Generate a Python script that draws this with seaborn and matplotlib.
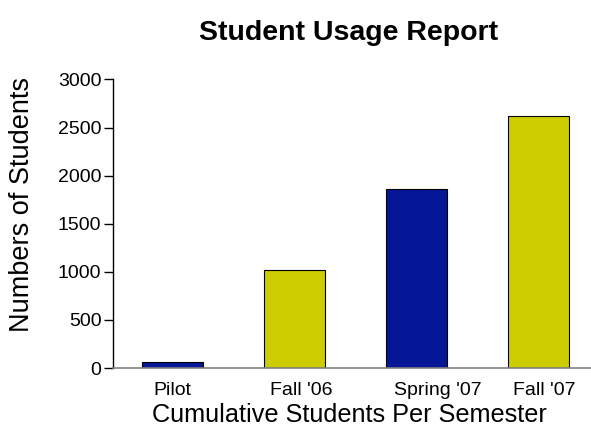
import matplotlib
matplotlib.use("Agg")
import matplotlib.pyplot as plt
import seaborn as sns
import pandas as pd

semesters = ["Pilot", "Fall '06", "Spring '07", "Fall '07"]
students = [60, 1020, 1860, 2620]
bar_colors = ["#051796", "#CCCC00", "#051796", "#CCCC00"]
y_ticks = [0, 500, 1000, 1500, 2000, 2500, 3000]
# category label positions along the x axis (slightly right of some bars)
label_positions = [0.0, 1.05, 2.17, 3.05]

sns.set_style("white")
plt.rcParams["font.family"] = ["Liberation Sans", "DejaVu Sans"]
plt.rcParams["text.color"] = "black"
plt.rcParams["axes.labelcolor"] = "black"
plt.rcParams["xtick.color"] = "black"
plt.rcParams["ytick.color"] = "black"

df = pd.DataFrame({"semester": semesters, "students": students})

fig = plt.figure(figsize=(5.91, 4.34), dpi=100)
ax = fig.add_axes([0.1912, 0.152, 0.8088, 0.665])

sns.barplot(data=df, x="semester", y="students", hue="semester",
            palette=bar_colors, legend=False, width=0.5, saturation=1,
            edgecolor="black", linewidth=0.8, ax=ax)

ax.set_xlim(-0.49, 3.43)
ax.set_ylim(0, 3000)
ax.set_yticks(y_ticks)
ax.set_xticks(label_positions)
ax.set_xticklabels(semesters)
ax.tick_params(axis="y", direction="out", length=6.3, width=1, color="black",
               labelsize=14, pad=2, left=True)
ax.tick_params(axis="x", length=0, labelsize=14, pad=10)

for side in ("top", "right"):
    ax.spines[side].set_visible(False)
ax.spines["left"].set_color("black")
ax.spines["left"].set_linewidth(1)
ax.spines["bottom"].set_color("#808080")
ax.spines["bottom"].set_linewidth(1.2)

ax.set_ylabel("Numbers of Students", fontsize=19.5)
ax.yaxis.label.set_va("center")
ax.yaxis.set_label_coords((22 - 113) / 478, 0.567)

ax.set_xlabel("Cumulative Students Per Semester", fontsize=18.2)
ax.xaxis.label.set_va("baseline")
ax.xaxis.set_label_coords((349.5 - 113) / 478, -(422 - 368) / 289)

fig.text(348.5 / 591, 1 - 40 / 434, "Student Usage Report", fontsize=20.5,
         fontweight="bold", ha="center", va="baseline")

fig.savefig("out.png", dpi=100, facecolor="white")
